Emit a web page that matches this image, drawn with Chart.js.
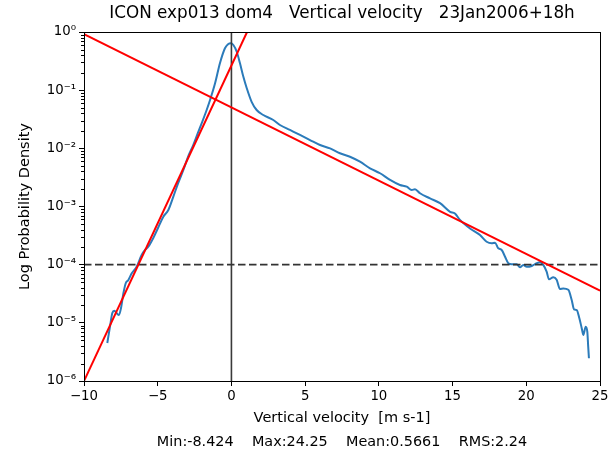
<!DOCTYPE html>
<html>
<head>
<meta charset="utf-8">
<script src="https://cdn.jsdelivr.net/npm/chart.js@4"></script>
<style>html,body{margin:0;padding:0;background:#fff}</style>
</head>
<body>
<canvas id="c" width="615" height="452"></canvas>
<script>
// Probability density of vertical velocity (log scale)
const velocity = [
  -8.42, -8.24, -8.08, -7.94, -7.78, -7.63, -7.49, -7.33, -7.17, -7.00,
  -6.76, -6.43, -6.09, -5.86, -5.64, -5.30, -4.98, -4.62, -4.28, -3.94,
  -3.62, -3.26, -2.95, -2.59, -2.30, -2.02, -1.68, -1.45, -1.11, -0.78,
  -0.44, -0.21, -0.05, 0.13, 0.36, 0.58, 0.81, 1.04, 1.37, 1.71,
  2.16, 2.84, 3.29, 3.97, 4.65, 5.33, 6.01, 6.69, 7.36, 8.04,
  8.72, 9.40, 10.08, 10.76, 11.43, 11.89, 12.23, 12.45, 12.79, 13.47,
  14.15, 14.83, 15.16, 15.50, 16.18, 16.86, 17.31, 17.65, 17.88, 18.10,
  18.33, 18.56, 18.78, 19.01, 19.35, 19.57, 19.80, 20.03, 20.37, 20.71,
  20.93, 21.15, 21.38, 21.54, 21.83, 22.06, 22.29, 22.51, 22.85, 23.08,
  23.24, 23.42, 23.60, 23.76, 23.87, 24.03, 24.14, 24.20, 24.25
];
const density = [
  4.5e-6, 8.5e-6, 1.48e-5, 1.62e-5, 1.46e-5, 1.36e-5, 1.8e-5, 3.2e-5, 4.8e-5, 5.4e-5,
  7.1e-5, 9.2e-5, 1.47e-4, 1.79e-4, 2.04e-4, 2.88e-4, 4.27e-4, 6.7e-4, 8.7e-4, 1.48e-3,
  2.5e-3, 4.25e-3, 7.1e-3, 0.0114, 0.0177, 0.0269, 0.0456, 0.0677, 0.131, 0.29,
  0.525, 0.622, 0.64, 0.598, 0.458, 0.29, 0.17, 0.108, 0.063, 0.0456,
  0.0374, 0.0307, 0.0252, 0.0207, 0.0170, 0.0139, 0.0114, 0.0100, 0.00822, 0.00718,
  0.00589, 0.00454, 0.00373, 0.00286, 0.00234, 0.00219, 0.00192, 0.00198, 0.00169, 0.00138,
  0.00114, 8.1e-4, 7.6e-4, 5.9e-4, 4.2e-4, 3.24e-4, 2.48e-4, 2.33e-4, 2.39e-4, 1.91e-4,
  1.79e-4, 1.37e-4, 1.06e-4, 1.02e-4, 1.02e-4, 9.0e-5, 9.9e-5, 9.2e-5, 9.5e-5, 1.06e-4,
  1.10e-4, 9.9e-5, 7.6e-5, 5.6e-5, 6.1e-5, 5.5e-5, 3.8e-5, 3.9e-5, 3.7e-5, 2.47e-5,
  1.71e-5, 1.66e-5, 1.2e-5, 8.1e-6, 6.2e-6, 8.6e-6, 7.0e-6, 3.9e-6, 2.46e-6
];

// Exponential fits to the two tails
const updraftFitX = [-10, 25];
const updraftFitY = [0.92, 3.57e-5];
const downdraftFitX = [-10, 1.06];
const downdraftFitY = [1e-6, 1.0];

// Reference lines
const zeroVelocity = 0;
const densityThreshold = 1e-4;

// Axes
const xTicks = [-10, -5, 0, 5, 10, 15, 20, 25];
const yTickValues = [1e-6, 1e-5, 1e-4, 1e-3, 1e-2, 1e-1, 1];
const yTickLabels = ['10\u207B\u2076', '10\u207B\u2075', '10\u207B\u2074', '10\u207B\u00B3', '10\u207B\u00B2', '10\u207B\u00B9', '10\u2070'];

const titleText = 'ICON exp013 dom4   Vertical velocity   23Jan2006+18h';
const xLabel = 'Vertical velocity  [m s-1]';
const yLabel = 'Log Probability Density';
const statsText = 'Min:-8.424    Max:24.25    Mean:0.5661    RMS:2.24';

const pairs = (xs, ys) => xs.map((x, i) => ({x: x, y: ys[i]}));

const yMinor = [];
for (let e = -6; e < 0; e++) {
  for (let k = 2; k <= 9; k++) yMinor.push(k * Math.pow(10, e));
}

// Full box around the plot plus minor log ticks on the y axis
const framePlugin = {
  id: 'frame',
  afterDatasetsDraw(chart) {
    const {ctx, chartArea: a, scales: {y}} = chart;
    ctx.save();
    ctx.strokeStyle = '#000';
    ctx.lineWidth = 1;
    ctx.beginPath();
    for (const v of yMinor) {
      const py = Math.round(y.getPixelForValue(v)) + 0.5;
      ctx.moveTo(a.left - 3, py);
      ctx.lineTo(a.left, py);
    }
    ctx.stroke();
    const l = Math.round(a.left) + 0.5, t = Math.round(a.top) + 0.5;
    const r = Math.round(a.right) + 0.5, b = Math.round(a.bottom) + 0.5;
    ctx.strokeRect(l, t, r - l, b - t);
    ctx.restore();
  }
};

Chart.defaults.font.family = "'DejaVu Sans', sans-serif";
Chart.defaults.color = '#000';

new Chart(document.getElementById('c'), {
  type: 'scatter',
  data: {
    datasets: [
      {
        data: pairs(updraftFitX, updraftFitY),
        showLine: true, borderColor: '#ff0000', borderWidth: 2,
        pointRadius: 0, clip: 0
      },
      {
        data: pairs(downdraftFitX, downdraftFitY),
        showLine: true, borderColor: '#ff0000', borderWidth: 2,
        pointRadius: 0, clip: 0
      },
      {
        data: [{x: xTicks[0], y: densityThreshold}, {x: xTicks[xTicks.length - 1], y: densityThreshold}],
        showLine: true, borderColor: '#333333', borderWidth: 1.8,
        borderDash: [7.5, 3.5], pointRadius: 0, clip: 0
      },
      {
        data: [{x: zeroVelocity, y: yTickValues[0]}, {x: zeroVelocity, y: yTickValues[yTickValues.length - 1]}],
        showLine: true, borderColor: '#3a3a3a', borderWidth: 1.6,
        pointRadius: 0, clip: 0
      },
      {
        data: pairs(velocity, density),
        showLine: true, borderColor: '#2b7bba', borderWidth: 2,
        pointRadius: 0, cubicInterpolationMode: 'monotone', clip: 0
      }
    ]
  },
  options: {
    responsive: false,
    animation: false,
    devicePixelRatio: 1,
    layout: {padding: {left: 0, right: 15, top: 0, bottom: 0}},
    plugins: {
      legend: {display: false},
      tooltip: {enabled: false},
      title: {
        display: true, text: titleText, fullSize: false,
        font: {size: 16.8, weight: 'normal'}, color: '#000',
        padding: {top: 3.9, bottom: 7.94}
      },
      subtitle: {
        display: true, text: statsText, position: 'bottom', fullSize: false,
        font: {size: 14.4, weight: 'normal'}, color: '#000',
        padding: {top: 0.3, bottom: 1.4}
      }
    },
    scales: {
      x: {
        type: 'linear', min: xTicks[0], max: xTicks[xTicks.length - 1],
        afterBuildTicks: s => { s.ticks = xTicks.map(v => ({value: v})); },
        afterFit: s => { s.height = 52; s.paddingLeft = 0; s.paddingRight = 0; },
        ticks: {
          font: {size: 13.3}, color: '#000', padding: 3, maxRotation: 0, autoSkip: false,
          callback: v => (v < 0 ? '\u2212' + Math.abs(v) : String(v))
        },
        grid: {drawOnChartArea: false, tickLength: 5, tickColor: '#000', tickWidth: 1},
        border: {display: false},
        title: {display: true, text: xLabel, font: {size: 14.5}, color: '#000', padding: {top: 0, bottom: 6.3}}
      },
      y: {
        type: 'logarithmic', min: yTickValues[0], max: yTickValues[yTickValues.length - 1],
        afterBuildTicks: s => { s.ticks = yTickValues.map(v => ({value: v})); },
        afterFit: s => { s.width = 84; s.paddingTop = 0; s.paddingBottom = 0; },
        ticks: {
          font: {size: 13.3}, color: '#000', padding: 3, autoSkip: false,
          callback: v => {
            let best = 0;
            yTickValues.forEach((t, i) => {
              if (Math.abs(Math.log10(t) - Math.log10(v)) < Math.abs(Math.log10(yTickValues[best]) - Math.log10(v))) best = i;
            });
            return yTickLabels[best];
          }
        },
        grid: {drawOnChartArea: false, tickLength: 5, tickColor: '#000', tickWidth: 1},
        border: {display: false},
        title: {display: true, text: yLabel, font: {size: 14.5}, color: '#000', padding: {top: 16.3, bottom: 0}}
      }
    }
  },
  plugins: [framePlugin]
});
</script>
</body>
</html>
